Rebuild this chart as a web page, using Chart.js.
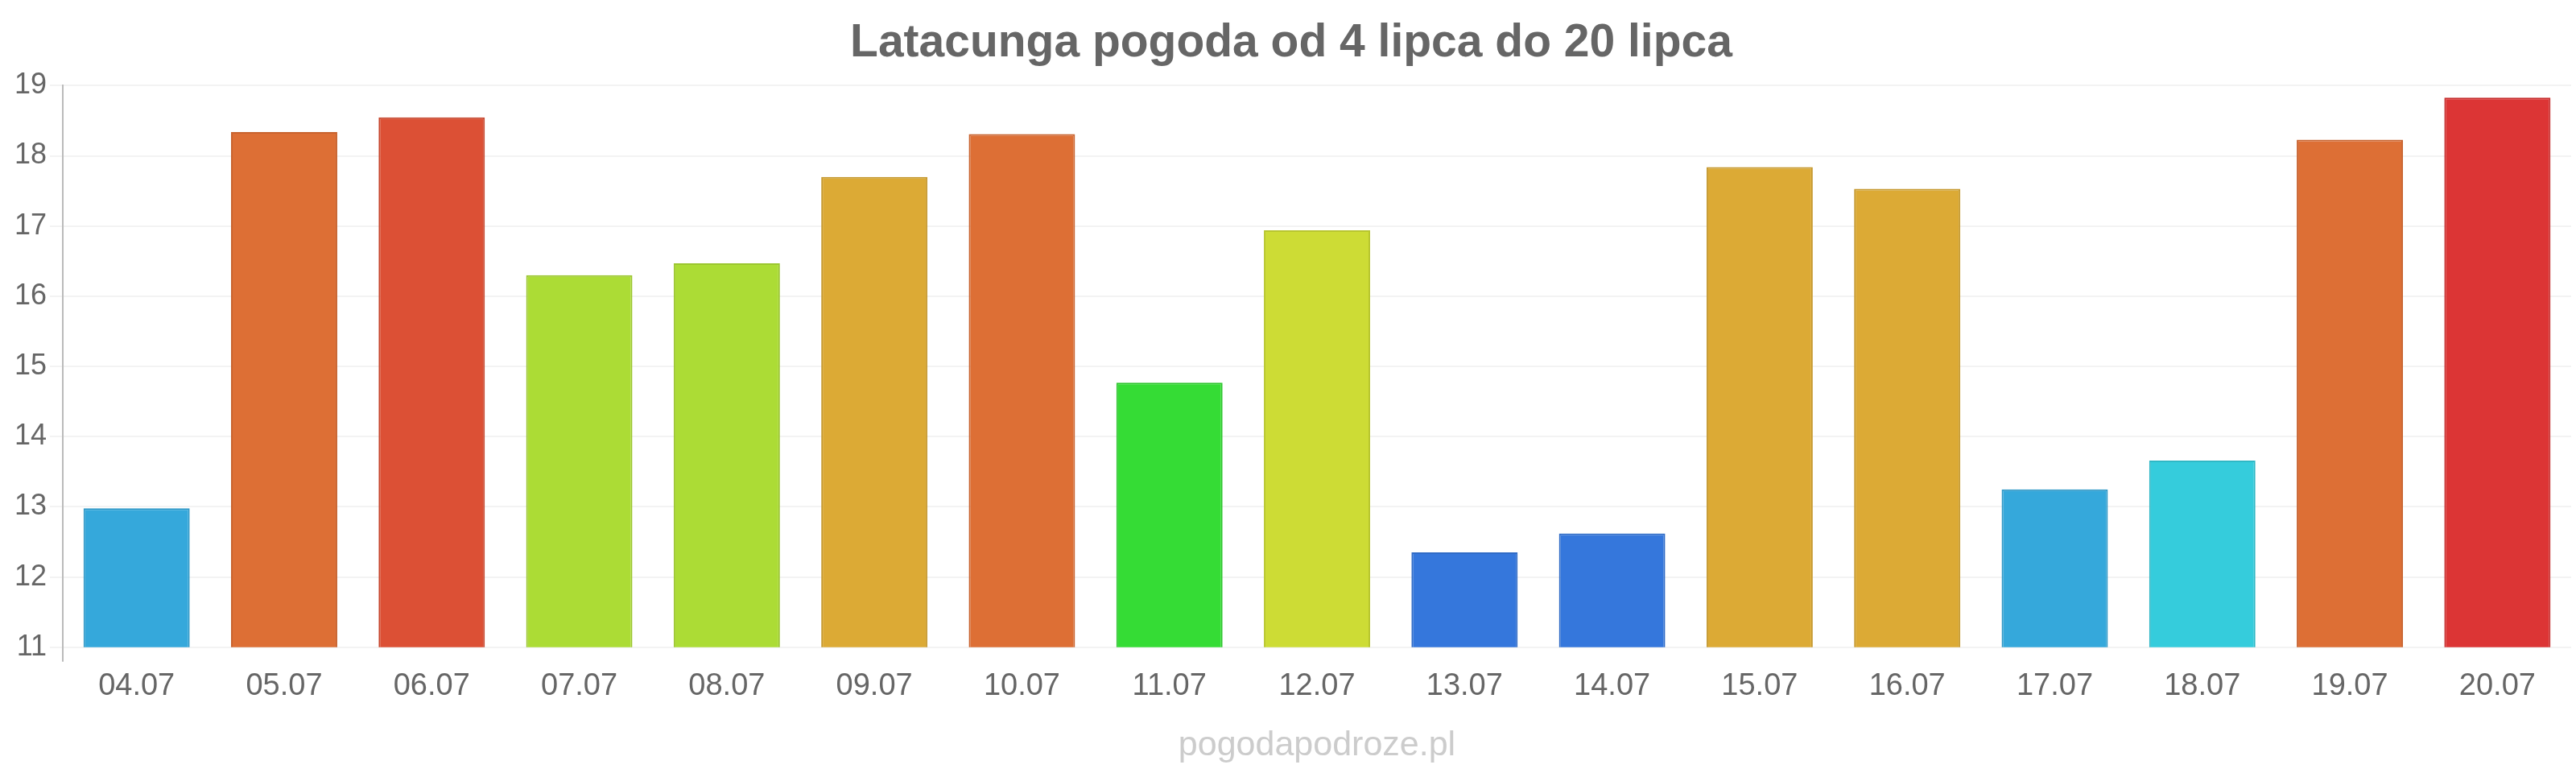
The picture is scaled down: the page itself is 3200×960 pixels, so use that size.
<!DOCTYPE html>
<html>
<head>
<meta charset="utf-8">
<script src="https://cdn.jsdelivr.net/npm/chart.js@4"></script>
<style>
  html, body { margin: 0; padding: 0; background: #fff; }
  #wrap { width: 3200px; height: 960px; position: relative; }
</style>
</head>
<body>
<div id="wrap"><canvas id="chart"></canvas></div>
<script>
const chartTitle = "Latacunga pogoda od 4 lipca do 20 lipca";
const watermark = "pogodapodroze.pl";

const days = ["04.07", "05.07", "06.07", "07.07", "08.07", "09.07", "10.07", "11.07", "12.07",
    "13.07", "14.07", "15.07", "16.07", "17.07", "18.07", "19.07", "20.07"];
const temps = [12.98, 18.34, 18.55, 16.3, 16.47, 17.7, 18.31, 14.77, 16.94,
    12.35, 12.62, 17.84, 17.53, 13.25, 13.66, 18.23, 18.83];
const barColors = ["#35a8db", "#dd6f35", "#dc5035", "#acdc35", "#acdc35", "#dcaa35", "#dd6f35", "#35dc35", "#cddc35",
    "#3577dc", "#3577dc", "#dcaa35", "#dcaa35", "#35a8db", "#35ccdc", "#dd6f35", "#dc3535"];
const borderColors = ["#2f98c6", "#c8632f", "#c6482f", "#9bc62f", "#9bc62f", "#c6992f", "#c8632f", "#2fc62f", "#b8c62f",
    "#2f6bc6", "#2f6bc6", "#c6992f", "#c6992f", "#2f98c6", "#2fb8c6", "#c8632f", "#c62f2f"];
const yMin = 11;
const yMax = 19;

const ctx = document.getElementById("chart").getContext("2d");
new Chart(ctx, {
    type: "bar",
    data: {
        labels: days,
        datasets: [{
            data: temps,
            backgroundColor: barColors,
            borderColor: borderColors,
            borderWidth: 2
        }]
    },
    options: {
        responsive: true,
        maintainAspectRatio: false,
        animation: false,
        layout: { padding: { left: 14, right: 6, top: 0, bottom: 8 } },
        plugins: {
            legend: { display: false },
            tooltip: { enabled: false },
            title: {
                display: true,
                text: chartTitle,
                color: "#666",
                font: { family: "Liberation Sans, Arial, sans-serif", size: 57, weight: "bold" },
                padding: { top: 20, bottom: 18 }
            }
        },
        scales: {
            x: {
                grid: {
                    display: true,
                    drawOnChartArea: true,
                    color: c => c.index === 0 ? "#bbb" : "rgba(0,0,0,0)",
                    lineWidth: 2,
                    tickLength: 18
                },
                border: { display: false },
                ticks: {
                    color: "#666",
                    font: { family: "Liberation Sans, Arial, sans-serif", size: 38 },
                    padding: 8
                },
                title: {
                    display: true,
                    text: watermark,
                    color: "#ccc",
                    font: { family: "Liberation Sans, Arial, sans-serif", size: 43 },
                    padding: { top: 17, bottom: 0 }
                }
            },
            y: {
                min: yMin,
                max: yMax,
                grid: { color: "#f3f3f3", lineWidth: 2, tickLength: 16 },
                border: { display: true, color: "#bbb", width: 2 },
                ticks: {
                    stepSize: 1,
                    color: "#666",
                    font: { family: "Liberation Sans, Arial, sans-serif", size: 36 },
                    padding: 4
                }
            }
        }
    }
});
</script>
</body>
</html>
